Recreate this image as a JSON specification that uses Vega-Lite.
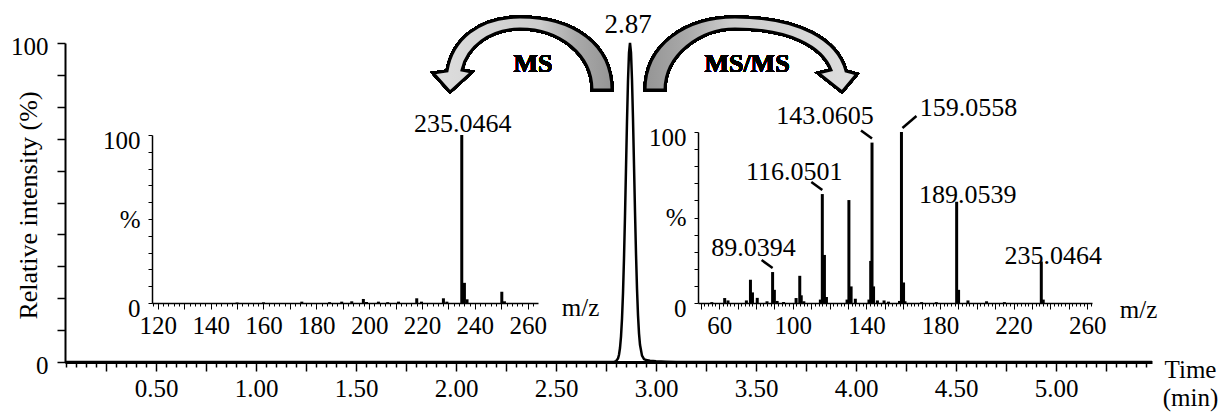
{
  "$schema": "https://vega.github.io/schema/vega-lite/v6.json",
  "width": 1222,
  "height": 414,
  "autosize": "none",
  "padding": 0,
  "background": "white",
  "config": {
    "view": {"stroke": null},
    "font": "'Liberation Serif', 'Times New Roman', serif",
    "text": {"font": "'Liberation Serif', 'Times New Roman', serif", "fontSize": 26, "color": "black"},
    "axis": {
      "labelFont": "'Liberation Serif', 'Times New Roman', serif",
      "titleFont": "'Liberation Serif', 'Times New Roman', serif",
      "labelColor": "black",
      "titleColor": "black",
      "domainColor": "black",
      "tickColor": "black",
      "grid": false,
      "labelFontSize": 25,
      "titleFontSize": 25,
      "titleFontWeight": "normal",
      "labelFlush": false,
      "labelOverlap": false,
      "labelBound": false
    }
  },
  "datasets": {
    "chromatogram": [
      {"time": 0.045, "intensity": 0},
      {"time": 2.78, "intensity": 0},
      {"time": 2.79, "intensity": 0.03},
      {"time": 2.80, "intensity": 0.22},
      {"time": 2.81, "intensity": 1.11},
      {"time": 2.815, "intensity": 2.28},
      {"time": 2.82, "intensity": 4.39},
      {"time": 2.825, "intensity": 7.96},
      {"time": 2.83, "intensity": 13.5},
      {"time": 2.835, "intensity": 21.6},
      {"time": 2.84, "intensity": 32.5},
      {"time": 2.845, "intensity": 45.8},
      {"time": 2.85, "intensity": 60.7},
      {"time": 2.855, "intensity": 75.5},
      {"time": 2.86, "intensity": 88.2},
      {"time": 2.865, "intensity": 96.9},
      {"time": 2.87, "intensity": 100},
      {"time": 2.875, "intensity": 97.0},
      {"time": 2.88, "intensity": 88.5},
      {"time": 2.885, "intensity": 76.2},
      {"time": 2.89, "intensity": 61.8},
      {"time": 2.895, "intensity": 47.2},
      {"time": 2.90, "intensity": 34.0},
      {"time": 2.905, "intensity": 23.0},
      {"time": 2.91, "intensity": 14.7},
      {"time": 2.915, "intensity": 9.0},
      {"time": 2.92, "intensity": 5.4},
      {"time": 2.93, "intensity": 2.0},
      {"time": 2.94, "intensity": 0.9},
      {"time": 2.95, "intensity": 0.6},
      {"time": 2.97, "intensity": 0.4},
      {"time": 3.00, "intensity": 0.2},
      {"time": 3.05, "intensity": 0.08},
      {"time": 3.10, "intensity": 0},
      {"time": 5.48, "intensity": 0}
    ],
    "ms": [
      {"mz": 150.0, "intensity": 0.3},
      {"mz": 160.0, "intensity": 0.4},
      {"mz": 174.5, "intensity": 0.8},
      {"mz": 185.0, "intensity": 0.5},
      {"mz": 189.6, "intensity": 0.8},
      {"mz": 193.4, "intensity": 1.0},
      {"mz": 197.8, "intensity": 2.4},
      {"mz": 199.0, "intensity": 0.6},
      {"mz": 203.5, "intensity": 0.8},
      {"mz": 207.0, "intensity": 0.5},
      {"mz": 211.1, "intensity": 0.8},
      {"mz": 218.0, "intensity": 2.8},
      {"mz": 219.8, "intensity": 0.8},
      {"mz": 228.1, "intensity": 2.8},
      {"mz": 229.4, "intensity": 0.8},
      {"mz": 235.0464, "intensity": 100},
      {"mz": 236.05, "intensity": 12.0},
      {"mz": 237.04, "intensity": 2.2},
      {"mz": 250.2, "intensity": 6.7},
      {"mz": 251.2, "intensity": 1.0}
    ],
    "msms": [
      {"mz": 56.0, "intensity": 0.5},
      {"mz": 63.0, "intensity": 2.9},
      {"mz": 64.8, "intensity": 1.5},
      {"mz": 74.8, "intensity": 1.5},
      {"mz": 77.0, "intensity": 13.6},
      {"mz": 78.1, "intensity": 6.2},
      {"mz": 80.7, "intensity": 3.0},
      {"mz": 86.0, "intensity": 1.0},
      {"mz": 89.0394, "intensity": 18.1},
      {"mz": 90.0, "intensity": 7.7},
      {"mz": 91.5, "intensity": 1.2},
      {"mz": 95.0, "intensity": 0.6},
      {"mz": 101.8, "intensity": 2.9},
      {"mz": 103.8, "intensity": 15.9},
      {"mz": 104.6, "intensity": 4.5},
      {"mz": 106.0, "intensity": 1.0},
      {"mz": 115.0, "intensity": 2.0},
      {"mz": 116.0501, "intensity": 63.7},
      {"mz": 117.2, "intensity": 28.1},
      {"mz": 118.3, "intensity": 3.5},
      {"mz": 129.5, "intensity": 2.0},
      {"mz": 130.5, "intensity": 60.2},
      {"mz": 131.7, "intensity": 9.7},
      {"mz": 134.0, "intensity": 2.5},
      {"mz": 141.4, "intensity": 2.0},
      {"mz": 142.35, "intensity": 24.6},
      {"mz": 143.0605, "intensity": 93.8},
      {"mz": 143.9, "intensity": 9.7},
      {"mz": 146.0, "intensity": 1.5},
      {"mz": 149.6, "intensity": 1.5},
      {"mz": 152.0, "intensity": 0.8},
      {"mz": 158.0, "intensity": 1.2},
      {"mz": 159.0558, "intensity": 100},
      {"mz": 160.2, "intensity": 12.0},
      {"mz": 161.0, "intensity": 1.0},
      {"mz": 170.0, "intensity": 0.5},
      {"mz": 178.0, "intensity": 0.5},
      {"mz": 189.0539, "intensity": 59.2},
      {"mz": 190.1, "intensity": 7.7},
      {"mz": 195.2, "intensity": 1.5},
      {"mz": 205.3, "intensity": 1.0},
      {"mz": 215.0, "intensity": 0.5},
      {"mz": 235.0464, "intensity": 24.3},
      {"mz": 236.1, "intensity": 2.0}
    ]
  },
  "resolve": {
    "scale": {"x": "independent", "y": "independent"},
    "axis": {"x": "independent", "y": "independent"}
  },
  "layer": [
    {
      "data": {"name": "chromatogram"},
      "layer": [
        {
          "mark": {"type": "line", "color": "black", "strokeWidth": 2.5},
          "encoding": {
            "x": {
              "field": "time",
              "type": "quantitative",
              "scale": {"domain": [0.045, 5.48], "range": [65, 1152], "nice": false, "zero": false},
              "axis": {
                "orient": "bottom",
                "offset": -52,
                "tickCount": 110,
                "tickSize": {"condition": {"test": "round(datum.value*100) % 25 === 0", "value": 9}, "value": 5},
                "tickWidth": 1.5,
                "domainWidth": 3,
                "labelExpr": "round(datum.value*100) % 50 === 0 ? format(datum.value, '.2f') : ''",
                "labelPadding": 5,
                "title": ["Time", "(min)"],
                "titleX": 1190,
                "titleY": 15,
                "titleAlign": "center",
                "titleBaseline": "alphabetic",
                "titleLineHeight": 28,
                "titleAngle": 0
              }
            },
            "y": {
              "field": "intensity",
              "type": "quantitative",
              "scale": {"domain": [0, 100], "range": [362, 43], "nice": false},
              "axis": {
                "orient": "left",
                "offset": -65,
                "values": [0, 10, 20, 30, 40, 50, 60, 70, 80, 90, 100],
                "tickSize": 8,
                "tickWidth": 1.5,
                "domainWidth": 2,
                "labelExpr": "datum.value === 0 || datum.value === 100 ? datum.label : ''",
                "labelPadding": 9,
                "labelBaseline": "middle",
                "labelOffset": 3,
                "title": "Relative intensity (%)",
                "titleX": -37,
                "titleY": 205,
                "titleAngle": -90,
                "titleAlign": "center",
                "titleBaseline": "middle",
                "titleFontSize": 26
              }
            }
          }
        },
        {
          "transform": [{"filter": "datum.time === 2.87"}],
          "mark": {"type": "text", "dx": -2, "dy": -10, "baseline": "alphabetic", "align": "center", "fontSize": 27},
          "encoding": {
            "x": {"field": "time", "type": "quantitative"},
            "y": {"field": "intensity", "type": "quantitative"},
            "text": {"field": "time", "format": ".2f"}
          }
        },
        {
          "mark": {
            "type": "point",
            "shape": "M -0.28 0.35 C -0.28 -0.10 -0.65 -0.38 -1.20 -0.38 C -1.62 -0.38 -1.88 -0.15 -1.93 0.16 L -2.07 0.18 L -1.90 0.37 L -1.68 0.17 L -1.78 0.15 C -1.73 -0.08 -1.50 -0.26 -1.20 -0.26 C -0.80 -0.26 -0.48 0.00 -0.48 0.35 Z",
            "size": 40000,
            "filled": true,
            "opacity": 1,
            "fill": {
              "gradient": "linear", "x1": 0, "y1": 0, "x2": 1, "y2": 0,
              "stops": [
                {"offset": 0, "color": "#dedede"},
                {"offset": 0.6, "color": "#cccccc"},
                {"offset": 0.8, "color": "#a9a9a9"},
                {"offset": 1, "color": "#959595"}
              ]
            },
            "stroke": "black",
            "strokeWidth": 3,
            "strokeJoin": "miter"
          },
          "encoding": {
            "x": {"datum": 2.92, "type": "quantitative"},
            "y": {"datum": 96.24, "type": "quantitative"}
          }
        },
        {
          "mark": {
            "type": "point",
            "shape": "M 0.05 0.35 C 0.05 -0.10 0.45 -0.38 0.95 -0.38 C 1.60 -0.38 1.98 -0.15 2.06 0.16 L 2.17 0.19 L 2.02 0.37 L 1.78 0.18 L 1.91 0.15 C 1.82 -0.08 1.50 -0.26 0.95 -0.26 C 0.60 -0.26 0.25 0.00 0.25 0.35 Z",
            "size": 40000,
            "filled": true,
            "opacity": 1,
            "fill": {
              "gradient": "linear", "x1": 0, "y1": 0, "x2": 1, "y2": 0,
              "stops": [
                {"offset": 0, "color": "#959595"},
                {"offset": 0.2, "color": "#a9a9a9"},
                {"offset": 0.4, "color": "#cccccc"},
                {"offset": 1, "color": "#dedede"}
              ]
            },
            "stroke": "black",
            "strokeWidth": 3,
            "strokeJoin": "miter"
          },
          "encoding": {
            "x": {"datum": 2.92, "type": "quantitative"},
            "y": {"datum": 96.24, "type": "quantitative"}
          }
        },
        {
          "mark": {"type": "text", "fontWeight": "bold", "fontSize": 26, "baseline": "alphabetic", "align": "center", "text": "MS"},
          "encoding": {
            "x": {"datum": 2.385, "type": "quantitative"},
            "y": {"datum": 90.9, "type": "quantitative"}
          }
        },
        {
          "mark": {"type": "text", "fontWeight": "bold", "fontSize": 26, "baseline": "alphabetic", "align": "center", "text": "MS/MS"},
          "encoding": {
            "x": {"datum": 3.455, "type": "quantitative"},
            "y": {"datum": 90.9, "type": "quantitative"}
          }
        }
      ]
    },
    {
      "data": {"name": "ms"},
      "layer": [
        {
          "mark": {"type": "rule", "color": "black", "strokeWidth": 3},
          "encoding": {
            "x": {
              "field": "mz",
              "type": "quantitative",
              "scale": {"domain": [117.8, 263.9], "range": [152, 538], "nice": false, "zero": false},
              "axis": {
                "orient": "bottom",
                "offset": -111,
                "tickCount": 80,
                "tickSize": {"condition": {"test": "datum.value % 10 === 0", "value": 6}, "value": 3},
                "tickWidth": 1,
                "domainWidth": 1.5,
                "labelExpr": "datum.value % 20 === 0 ? datum.label : ''",
                "labelPadding": 4,
                "title": "m/z",
                "titleX": 580,
                "titleY": 12,
                "titleAlign": "center",
                "titleBaseline": "alphabetic",
                "titleAngle": 0
              }
            },
            "y": {
              "field": "intensity",
              "type": "quantitative",
              "scale": {"domain": [0, 100], "range": [303, 135], "nice": false},
              "axis": {
                "orient": "left",
                "offset": -152,
                "values": [0, 10, 20, 30, 40, 50, 60, 70, 80, 90, 100],
                "tickSize": 4,
                "tickWidth": 1,
                "domainWidth": 1.5,
                "labelExpr": "datum.value === 50 ? '%' : (datum.value === 0 || datum.value === 100) ? datum.label : ''",
                "labelPadding": 8,
                "labelBaseline": "middle",
                "labelOffset": {"condition": {"test": "datum.value === 50", "value": 0}, "value": 5},
                "title": null
              }
            },
            "y2": {"datum": 0}
          }
        },
        {
          "transform": [{"filter": {"field": "mz", "equal": 235.0464}}],
          "mark": {"type": "text", "dx": 1, "dy": -3, "baseline": "alphabetic", "align": "center"},
          "encoding": {
            "x": {"field": "mz", "type": "quantitative"},
            "y": {"field": "intensity", "type": "quantitative"},
            "text": {"field": "mz", "format": ".4f"}
          }
        }
      ]
    },
    {
      "data": {"name": "msms"},
      "layer": [
        {
          "mark": {"type": "rule", "color": "black", "strokeWidth": 3},
          "encoding": {
            "x": {
              "field": "mz",
              "type": "quantitative",
              "scale": {"domain": [48.5, 262.6], "range": [698, 1092], "nice": false, "zero": false},
              "axis": {
                "orient": "bottom",
                "offset": -111,
                "tickCount": 110,
                "tickSize": {"condition": {"test": "datum.value % 10 === 0", "value": 6}, "value": 3},
                "tickWidth": 1,
                "domainWidth": 1.5,
                "labelExpr": "datum.value % 40 === 20 ? datum.label : ''",
                "labelPadding": 4,
                "title": "m/z",
                "titleX": 1138,
                "titleY": 14,
                "titleAlign": "center",
                "titleBaseline": "alphabetic",
                "titleAngle": 0
              }
            },
            "y": {
              "field": "intensity",
              "type": "quantitative",
              "scale": {"domain": [0, 100], "range": [303, 132], "nice": false},
              "axis": {
                "orient": "left",
                "offset": -698,
                "values": [0, 10, 20, 30, 40, 50, 60, 70, 80, 90, 100],
                "tickSize": 4,
                "tickWidth": 1,
                "domainWidth": 1.5,
                "labelExpr": "datum.value === 50 ? '%' : (datum.value === 0 || datum.value === 100) ? datum.label : ''",
                "labelPadding": 8,
                "labelBaseline": "middle",
                "labelOffset": {"condition": {"test": "datum.value === 50", "value": 0}, "value": 5},
                "title": null
              }
            },
            "y2": {"datum": 0}
          }
        },
        {
          "transform": [{"filter": {"field": "mz", "oneOf": [89.0394, 116.0501, 143.0605]}}],
          "mark": {"type": "rule", "color": "black", "strokeWidth": 2.5, "xOffset": -11, "yOffset": -12, "x2Offset": 0, "y2Offset": -4},
          "encoding": {
            "x": {"field": "mz", "type": "quantitative"},
            "x2": {"field": "mz"},
            "y": {"field": "intensity", "type": "quantitative"},
            "y2": {"field": "intensity"}
          }
        },
        {
          "transform": [{"filter": {"field": "mz", "equal": 159.0558}}],
          "mark": {"type": "rule", "color": "black", "strokeWidth": 2.5, "xOffset": 1, "yOffset": -4, "x2Offset": 15, "y2Offset": -16},
          "encoding": {
            "x": {"field": "mz", "type": "quantitative"},
            "x2": {"field": "mz"},
            "y": {"field": "intensity", "type": "quantitative"},
            "y2": {"field": "intensity"}
          }
        },
        {
          "transform": [{"filter": {"field": "mz", "equal": 89.0394}}],
          "mark": {"type": "text", "dx": -19, "dy": -16, "baseline": "alphabetic", "align": "center"},
          "encoding": {
            "x": {"field": "mz", "type": "quantitative"},
            "y": {"field": "intensity", "type": "quantitative"},
            "text": {"field": "mz", "format": ".4f"}
          }
        },
        {
          "transform": [{"filter": {"field": "mz", "equal": 116.0501}}],
          "mark": {"type": "text", "dx": -28, "dy": -14, "baseline": "alphabetic", "align": "center"},
          "encoding": {
            "x": {"field": "mz", "type": "quantitative"},
            "y": {"field": "intensity", "type": "quantitative"},
            "text": {"field": "mz", "format": ".4f"}
          }
        },
        {
          "transform": [{"filter": {"field": "mz", "equal": 143.0605}}],
          "mark": {"type": "text", "dx": -47, "dy": -19, "baseline": "alphabetic", "align": "center"},
          "encoding": {
            "x": {"field": "mz", "type": "quantitative"},
            "y": {"field": "intensity", "type": "quantitative"},
            "text": {"field": "mz", "format": ".4f"}
          }
        },
        {
          "transform": [{"filter": {"field": "mz", "equal": 159.0558}}],
          "mark": {"type": "text", "dx": 67, "dy": -16, "baseline": "alphabetic", "align": "center"},
          "encoding": {
            "x": {"field": "mz", "type": "quantitative"},
            "y": {"field": "intensity", "type": "quantitative"},
            "text": {"field": "mz", "format": ".4f"}
          }
        },
        {
          "transform": [{"filter": {"field": "mz", "equal": 189.0539}}],
          "mark": {"type": "text", "dx": 11, "dy": 1.5, "baseline": "alphabetic", "align": "center"},
          "encoding": {
            "x": {"field": "mz", "type": "quantitative"},
            "y": {"field": "intensity", "type": "quantitative"},
            "text": {"field": "mz", "format": ".4f"}
          }
        },
        {
          "transform": [{"filter": {"field": "mz", "equal": 235.0464}}],
          "mark": {"type": "text", "dx": 12, "dy": 2.5, "baseline": "alphabetic", "align": "center"},
          "encoding": {
            "x": {"field": "mz", "type": "quantitative"},
            "y": {"field": "intensity", "type": "quantitative"},
            "text": {"field": "mz", "format": ".4f"}
          }
        }
      ]
    }
  ]
}
